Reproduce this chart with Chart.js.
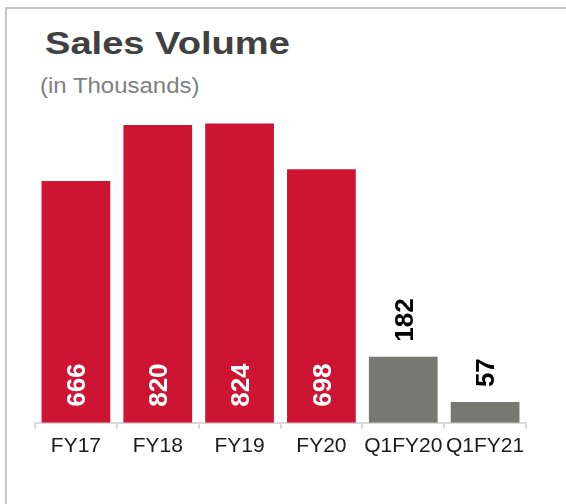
<!DOCTYPE html>
<html>
<head>
<meta charset="utf-8">
<script src="https://cdn.jsdelivr.net/npm/chart.js@4"></script>
<style>
  html, body { margin: 0; padding: 0; background: #fff; }
  #wrap { position: relative; width: 566px; height: 504px; overflow: hidden; }
  #frame { position: absolute; left: 5px; top: 7px; width: 600px; height: 600px;
           border-left: 2px solid #c4c4c4; border-top: 2px solid #c4c4c4; }
  #title { position: absolute; left: 45px; top: 25px; font: bold 32px "Liberation Sans", Arial, sans-serif;
           color: #404040; white-space: nowrap; transform: scaleX(1.19); transform-origin: left top; }
  #sub { position: absolute; left: 40px; top: 73px; font: 22px "Liberation Sans", Arial, sans-serif;
         color: #7f7f7f; white-space: nowrap; transform: scaleX(1.09); transform-origin: left top; }
  canvas { position: absolute; left: 0; top: 0; }
</style>
</head>
<body>
<div id="wrap">
  <div id="frame"></div>
  <div id="title">Sales Volume</div>
  <div id="sub">(in Thousands)</div>
  <canvas id="chart" width="566" height="504"></canvas>
</div>
<script>
const categories = ["FY17", "FY18", "FY19", "FY20", "Q1FY20", "Q1FY21"];
const volumes = [666, 820, 824, 698, 182, 57];
const barColors = ["#cd1432", "#cd1432", "#cd1432", "#cd1432", "#787872", "#787872"];
const labelInside = [true, true, true, true, false, false];

// rotated value labels: white inside red bars, black above gray bars
const valueLabels = {
  id: "valueLabels",
  afterDatasetsDraw(chart) {
    const ctx = chart.ctx;
    const meta = chart.getDatasetMeta(0);
    const size = 26;
    ctx.save();
    ctx.font = "bold " + size + "px 'Liberation Sans', Arial, sans-serif";
    meta.data.forEach((bar, i) => {
      const text = String(volumes[i]);
      ctx.save();
      if (labelInside[i]) {
        ctx.translate(bar.x, bar.base - 16);
        ctx.fillStyle = "#ffffff";
      } else {
        ctx.translate(bar.x, bar.y - 15);
        ctx.fillStyle = "#000000";
      }
      ctx.rotate(-Math.PI / 2);
      ctx.textAlign = "left";
      ctx.textBaseline = "alphabetic";
      ctx.fillText(text, 0, size * 0.358);
      ctx.restore();
    });
    ctx.restore();
  }
};

new Chart(document.getElementById("chart"), {
  type: "bar",
  data: {
    labels: categories,
    datasets: [{
      data: volumes,
      backgroundColor: barColors,
      barPercentage: 0.84,
      categoryPercentage: 1.0
    }]
  },
  options: {
    responsive: false,
    animation: false,
    layout: { padding: { left: 35, right: 40, top: 96, bottom: 40 } },
    plugins: { legend: { display: false }, tooltip: { enabled: false } },
    scales: {
      y: { display: false, min: 0, max: 900 },
      x: {
        grid: { offset: true, drawOnChartArea: false, drawTicks: true, tickLength: 6, color: "#d9d9d9", lineWidth: 2 },
        border: { color: "#d9d9d9", width: 2 },
        ticks: { color: "#1a1a1a", padding: 5, maxRotation: 0, autoSkip: false,
                 font: { family: "'Liberation Sans', Arial, sans-serif", size: 21 } }
      }
    }
  },
  plugins: [valueLabels]
});
</script>
</body>
</html>
